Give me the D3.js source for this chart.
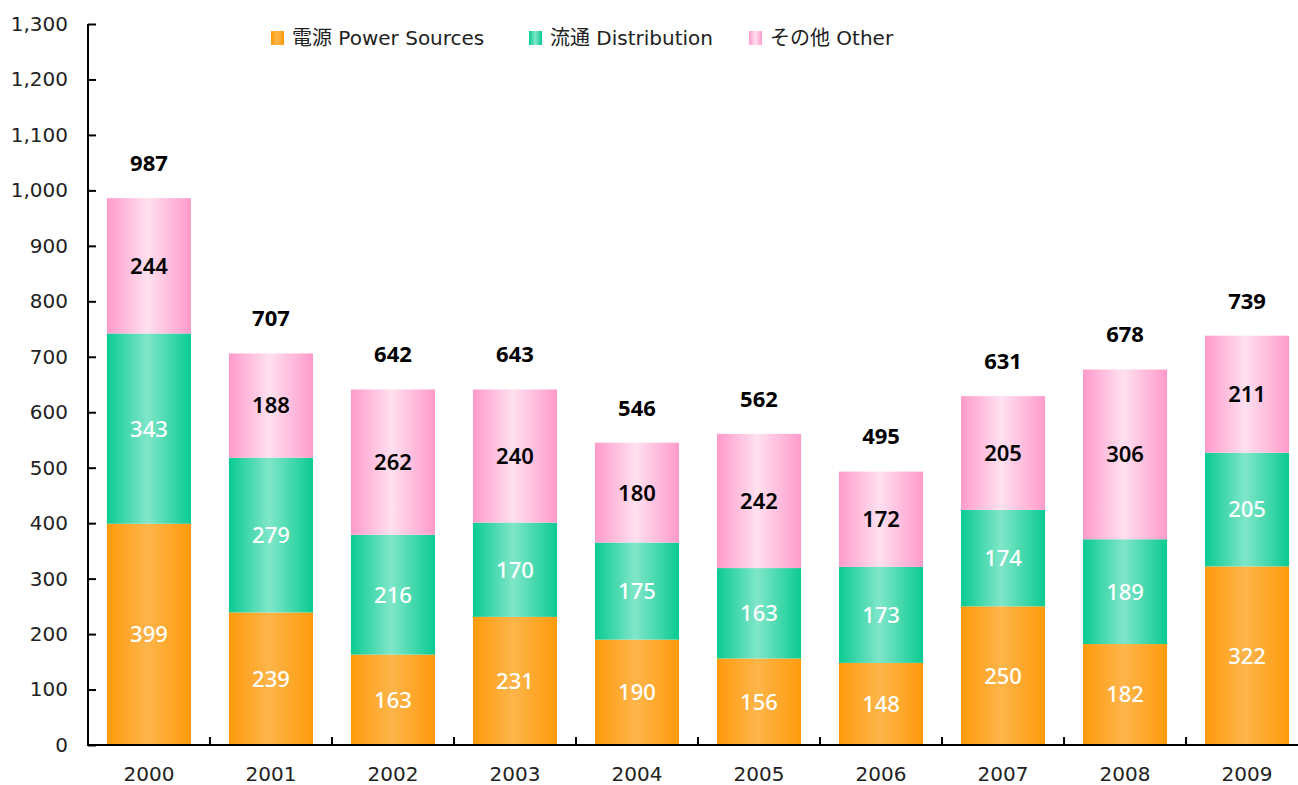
<!DOCTYPE html>
<html><head><meta charset="utf-8">
<script src="https://cdn.jsdelivr.net/npm/d3@7"></script>
<style>body{margin:0;background:#fff}svg{display:block}</style>
</head><body>
<svg id="c" width="1298" height="785"></svg>
<script>
const years = ["2000","2001","2002","2003","2004","2005","2006","2007","2008","2009"];
const power = [399,239,163,231,190,156,148,250,182,322];
const dist  = [343,279,216,170,175,163,173,174,189,205];
const other = [244,188,262,240,180,242,172,205,306,211];
const totals = [987,707,642,643,546,562,495,631,678,739];
const yTicks = [0,100,200,300,400,500,600,700,800,900,1000,1100,1200,1300];
const seriesNames = ["電源 Power Sources","流通 Distribution","その他 Other"];

const svg = d3.select("#c");
const x = d3.scaleBand().domain(years).range([88,1308]).paddingInner(0.311).paddingOuter(0.155);
const y = d3.scaleLinear().domain([0,1300]).range([745,24]);

const defs = svg.append("defs");
const grads = [
  {id:"gO", edge:"#FF9A0C", mid:"#FDB54A"},
  {id:"gG", edge:"#0ACB92", mid:"#80E6C9"},
  {id:"gP", edge:"#FF9ACB", mid:"#FFE0EF"}
];
grads.forEach(g=>{
  const lg = defs.append("linearGradient").attr("id",g.id).attr("x1","0").attr("x2","1").attr("y1","0").attr("y2","0");
  lg.append("stop").attr("offset","0%").attr("stop-color",g.edge);
  lg.append("stop").attr("offset","48%").attr("stop-color",g.mid);
  lg.append("stop").attr("offset","100%").attr("stop-color",g.edge);
});

const rows = years.map((yr,i)=>({year:yr, power:power[i], dist:dist[i], other:other[i]}));
const stack = d3.stack().keys(["power","dist","other"])(rows);
const fills = ["url(#gO)","url(#gG)","url(#gP)"];
const labelCol = ["#fff","#fff","#000"];
const labelW = [500,500,600];

stack.forEach((layer,li)=>{
  const g = svg.append("g");
  g.selectAll("rect").data(layer).enter().append("rect")
    .attr("x",d=>x(d.data.year)).attr("width",x.bandwidth())
    .attr("y",d=>y(d[1])).attr("height",d=>y(d[0])-y(d[1]))
    .attr("fill",fills[li]);
  g.selectAll("text").data(layer).enter().append("text")
    .attr("x",d=>x(d.data.year)+x.bandwidth()/2)
    .attr("y",d=>(y(d[0])+y(d[1]))/2)
    .attr("dy","0.36em").attr("text-anchor","middle")
    .attr("font-family","'Noto Sans', sans-serif").attr("font-size",22)
    .attr("font-weight",labelW[li]).attr("fill",labelCol[li])
    .text(d=>d.data[["power","dist","other"][li]]);
});

// totals
svg.append("g").selectAll("text").data(years).enter().append("text")
  .attr("x",d=>x(d)+x.bandwidth()/2)
  .attr("y",(d,i)=>y(stack[2][i][1])-35)
  .attr("dy","0.36em").attr("text-anchor","middle")
  .attr("font-family","'Noto Sans', sans-serif").attr("font-size",22).attr("font-weight",700)
  .attr("fill","#000").text((d,i)=>totals[i]);

// y axis
const ya = svg.append("g").attr("transform","translate(88,0)")
  .call(d3.axisLeft(y).tickValues(yTicks).tickSize(-8).tickPadding(20).tickFormat(d3.format(",")));
ya.select(".domain").attr("stroke","#000").attr("stroke-width",2).attr("d","M0,24V746");
ya.selectAll(".tick line").attr("stroke","#000").attr("stroke-width",2);
ya.selectAll(".tick text").attr("font-family","'DejaVu Sans', sans-serif").attr("font-size",20).attr("fill","#222");

// x axis
const xa = svg.append("g").attr("transform","translate(0,745)")
  .call(d3.axisBottom(x).tickSize(0).tickPadding(22));
xa.select(".domain").attr("stroke","#000").attr("stroke-width",2).attr("d","M88,0H1298");
xa.selectAll(".tick text").attr("font-family","'DejaVu Sans', sans-serif").attr("font-size",20).attr("fill","#222");
// category separators
const seps = years.slice(1).map(d=>x(d)-x.step()*x.paddingInner()/2);
xa.append("g").selectAll("line").data(seps).enter().append("line")
  .attr("x1",d=>d).attr("x2",d=>d).attr("y1",0).attr("y2",-8)
  .attr("stroke","#000").attr("stroke-width",2);

// legend
const legX = [271,529,749];
const lg = svg.append("g");
seriesNames.forEach((n,i)=>{
  lg.append("rect").attr("x",legX[i]).attr("y",31).attr("width",13).attr("height",14).attr("fill",fills[i]);
  lg.append("text").attr("x",legX[i]+21).attr("y",38).attr("dy","0.36em")
    .attr("font-family","'DejaVu Sans', 'Noto Sans CJK JP', sans-serif").attr("font-size",20).attr("fill","#222")
    .text(n);
});
</script>
</body></html>
